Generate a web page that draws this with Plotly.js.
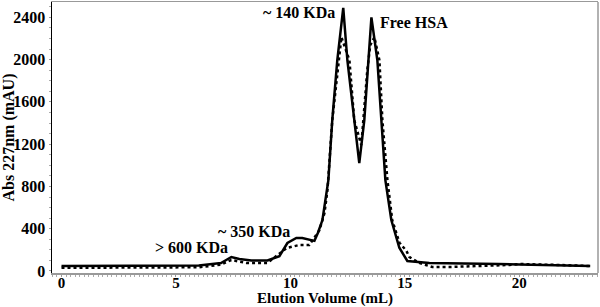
<!DOCTYPE html>
<html>
<head>
<meta charset="utf-8">
<script src="https://cdn.plot.ly/plotly-3.0.1.min.js"></script>
<style>html,body{margin:0;padding:0;background:#fff;}#chart{width:600px;height:307px;}</style>
</head>
<body>
<div id="chart"></div>
<script>
// Solid trace (elution volume mL, absorbance mAU)
const solidX = [0, 2, 4, 6, 6.97, 7.42, 7.77, 8.3, 9.0, 9.52, 9.87, 10.26, 10.52, 11.05, 11.2, 11.40, 11.66, 11.83, 12.05, 12.31, 12.49, 12.79, 13.01, 13.23, 13.41, 13.54, 13.80, 13.97, 14.15, 14.41, 14.76, 15.11, 16.07, 19.1, 21.7, 23.1];
const solidY = [48, 48, 50, 52, 76, 132, 113, 100, 100, 140, 265, 312, 312, 285, 360, 482, 860, 1427, 1994, 2490, 1994, 1427, 1021, 1427, 1994, 2400, 1994, 1427, 860, 482, 220, 95, 76, 66, 57, 47];
// Dotted trace
const dotX = [0, 2, 4, 6, 6.97, 7.42, 8.08, 9.0, 9.83, 10.39, 10.83, 11.27, 11.49, 11.62, 11.83, 12.14, 12.23, 12.58, 12.79, 13.10, 13.36, 13.49, 13.67, 13.89, 14.02, 14.24, 14.45, 14.76, 15.07, 15.2, 15.63, 16.2, 16.94, 19.56, 20.0, 21.7, 23.1];
const dotY = [30, 30, 30, 35, 60, 104, 76, 76, 217, 246, 246, 387, 548, 765, 1427, 1994, 2212, 1994, 1427, 1190, 1900, 2136, 2212, 1994, 1427, 860, 482, 270, 190, 132, 76, 38, 38, 57, 66, 57, 47];
// Peak labels
const labelText = ["~ 140 KDa", "Free HSA", "~ 350 KDa", "> 600 KDa"];
const labelX = [10.38, 15.4, 8.41, 5.66];
const labelY = [2441, 2355, 369, 218];

const fontFam = "Liberation Serif, Times New Roman, serif";
const traces = [
  {x: dotX, y: dotY, mode: "lines", line: {color: "#000", width: 2.5, dash: "dot"}, hoverinfo: "skip"},
  {x: solidX, y: solidY, mode: "lines", line: {color: "#000", width: 2.5}, hoverinfo: "skip"}
];
const annotations = labelText.map((t, i) => ({
  x: labelX[i], y: labelY[i], xref: "x", yref: "y", text: t, showarrow: false,
  font: {family: fontFam, size: 16, color: "#000", weight: "bold"}
}));
const layout = {
  width: 600, height: 307,
  margin: {l: 52, r: 2, t: 2, b: 34},
  paper_bgcolor: "#fff", plot_bgcolor: "#fff",
  showlegend: false,
  font: {family: fontFam, size: 16, color: "#000", weight: "bold"},
  xaxis: {
    range: [-0.415, 23.44], tickvals: [0, 5, 10, 15, 20], ticks: "outside", ticklen: 2, tickcolor: "#999",
    ticklabelstandoff: -7,
    showgrid: false, zeroline: false, showline: true, linecolor: "#999", linewidth: 1.5, mirror: true,
    tickfont: {family: fontFam, size: 15, weight: "bold"},
    minor: {dtick: 0.2, ticks: "outside", ticklen: 2, tickcolor: "#aaa", showgrid: false},
    title: {text: "Elution Volume (mL)", standoff: 2, font: {family: fontFam, size: 15, weight: "bold"}}
  },
  yaxis: {
    range: [-19, 2545], tickvals: [0, 400, 800, 1200, 1600, 2000, 2400], ticks: "outside", ticklen: 2, tickcolor: "#999",
    showgrid: false, zeroline: false, showline: true, linecolor: "#000", linewidth: 1.5,
    tickfont: {family: fontFam, size: 16, weight: "bold"},
    minor: {dtick: 100, ticks: "outside", ticklen: 2, tickcolor: "#aaa", showgrid: false},
    title: {text: "Abs 227nm (mAU)", standoff: 4, font: {family: fontFam, size: 16, weight: "bold"}}
  },
  shapes: [
    {type: "line", xref: "paper", yref: "paper", x0: 1, x1: 1, y0: 0, y1: 1, line: {color: "#999", width: 1.5}}
  ],
  annotations: annotations
};
Plotly.newPlot("chart", traces, layout, {displayModeBar: false, staticPlot: true});
</script>
</body>
</html>
